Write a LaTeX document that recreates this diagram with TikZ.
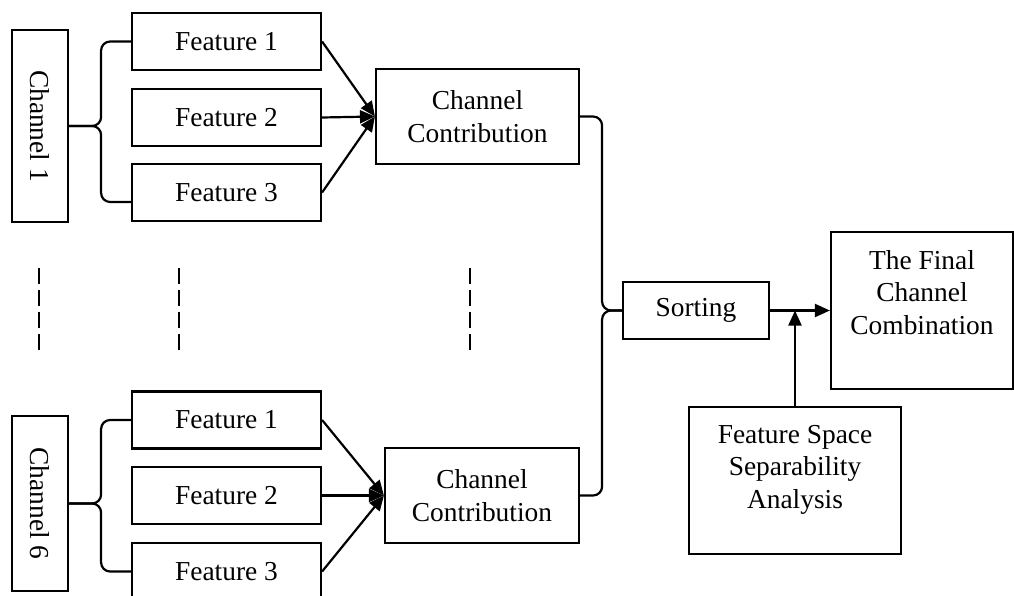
\documentclass[tikz,border=0pt]{standalone}
\usepackage{fontspec}
\setmainfont{Liberation Serif}
\usetikzlibrary{arrows.meta}

\begin{document}
\begin{tikzpicture}[x=0.02cm, y=-0.02cm, line width=1.25pt,
    font=\fontsize{15.6}{18.4}\selectfont,
    box/.style={draw, inner sep=0pt, align=center},
    feat/.style={box, minimum width=3.78cm, minimum height=1.14cm},
    chan/.style={box, minimum width=1.12cm},
    contrib/.style={box, minimum height=1.9cm},
    arr/.style={-{Triangle[length=0.3cm,width=0.26cm]}},
    brace/.style={rounded corners=0.18cm},
    boxtext/.style={anchor=north, align=center, inner sep=0pt, yshift=-0.37cm}]
    \useasboundingbox (0,0) rectangle (1014,595);

    % Channel 1 with its features
    \node[chan, minimum height=3.84cm] (ch1) at (40,126) {\rotatebox{-90}{Channel 1}};
    \node[feat] (f11) at (226.5,41.5)  {Feature 1};
    \node[feat] (f12) at (226.5,117.5) {Feature 2};
    \node[feat] (f13) at (226.5,192.5) {Feature 3};
    \node[contrib, minimum width=4.06cm] (cc1) at (477.5,116.5) {Channel\\Contribution};

    % Channel 6 with its features (last feature runs off the bottom)
    \node[chan, minimum height=3.5cm] (ch6) at (40,503.5) {\rotatebox{-90}{Channel 6}};
    \node[feat] (f61) at (226.5,420)   {Feature 1};
    \node[feat] (f62) at (226.5,495.5) {Feature 2};
    \node[feat] (f63) at (226.5,571.5) {Feature 3};
    \node[contrib, minimum width=3.88cm] (cc2) at (482,495.5) {Channel\\Contribution};

    % Channels 2..5 left out
    \foreach \x in {39,179,470}
        \draw[dash pattern=on 0.32cm off 0.12cm] (\x,268) -- (\x,350);

    % Right part
    \node[box, minimum width=2.92cm, minimum height=1.14cm] (sort) at (696,310.5) {Sorting};
    \node[box, minimum width=3.64cm, minimum height=3.14cm] (fin) at (922,310.5) {};
    \node[boxtext] (fintxt) at (fin.north) {The Final\\Channel\\Combination};
    \node[box, minimum width=4.24cm, minimum height=2.94cm] (fssa) at (795,480.5) {};
    \node[boxtext] (fssatxt) at (fssa.north) {Feature Space\\Separability\\Analysis};

    % Braces from each channel to its features
    \draw[brace] (ch1.east) -- ++(32,0) |- (f11.west);
    \draw[brace] (ch1.east) -- ++(32,0) |- ([yshift=-0.19cm]f13.west);
    \draw[brace] (ch6.east) -- ++(32,0) |- (f61.west);
    \draw[brace] (ch6.east) -- ++(32,0) |- (f63.west);

    % Features into the channel contribution
    \foreach \f in {f11,f12,f13} \draw[arr] (\f.east) -- (cc1.west);
    \foreach \f in {f61,f62,f63} \draw[arr] (\f.east) -- (cc2.west);

    % Both contributions gathered for sorting
    \draw[brace] (cc1.east) -- ++(22,0) |- (sort.west);
    \draw[brace] (cc2.east) -- ++(22,0) |- (sort.west);

    \draw[arr] (sort.east) -- (fin.west);
    \draw[arr] (fssa.north) -- (fssa.north |- sort.east);
\end{tikzpicture}
\end{document}
